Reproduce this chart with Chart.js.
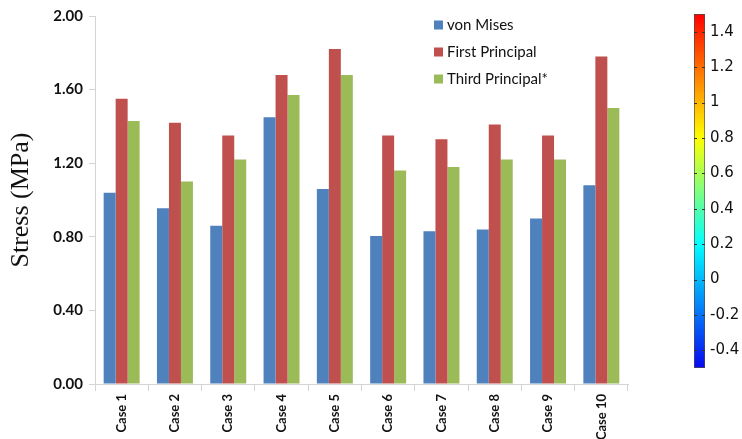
<!DOCTYPE html>
<html>
<head>
<meta charset="utf-8">
<title>Stress comparison</title>
<script src="https://cdn.jsdelivr.net/npm/chart.js@4.4.0/dist/chart.umd.min.js"></script>
<style>
  body { margin: 0; background: #fff; }
  #wrap { position: relative; width: 742px; height: 439px; }
  #stressChart { position: absolute; left: 0; top: 0; }
  #scaleBar { position: absolute; left: 660px; top: 0; }
</style>
</head>
<body>
<div id="wrap">
  <canvas id="stressChart" width="742" height="439"></canvas>
  <canvas id="scaleBar" width="82" height="439"></canvas>
</div>
<script>
// Stress per load case (MPa)
const cases = ['Case 1', 'Case 2', 'Case 3', 'Case 4', 'Case 5', 'Case 6', 'Case 7', 'Case 8', 'Case 9', 'Case 10'];
const vonMises = [1.04, 0.955, 0.86, 1.45, 1.06, 0.805, 0.83, 0.84, 0.90, 1.08];
const firstPrincipal = [1.55, 1.42, 1.35, 1.68, 1.82, 1.35, 1.33, 1.41, 1.35, 1.78];
const thirdPrincipal = [1.43, 1.10, 1.22, 1.57, 1.68, 1.16, 1.18, 1.22, 1.22, 1.50];
const stressTicks = [0, 0.4, 0.8, 1.2, 1.6, 2.0];

// colour scale on the right
const scaleRange = [-0.5, 1.5];
const scaleTicks = [-0.4, -0.2, 0, 0.2, 0.4, 0.6, 0.8, 1, 1.2, 1.4];

const axisGrey = '#d4d4d4';
const textBlack = '#111';

// legend stacked inside the plot, top right
const legendBox = {
  id: 'legendBox',
  afterDraw(chart) {
    const ctx = chart.ctx;
    ctx.save();
    ctx.font = '15px Lato';
    ctx.textBaseline = 'middle';
    chart.data.datasets.forEach((ds, i) => {
      const y = 25 + i * 27;
      ctx.fillStyle = ds.backgroundColor;
      ctx.fillRect(434, y - 4.5, 9, 9);
      ctx.fillStyle = textBlack;
      ctx.fillText(ds.label, 447, y);
    });
    ctx.restore();
  }
};

new Chart(document.getElementById('stressChart'), {
  type: 'bar',
  data: {
    labels: cases,
    datasets: [
      { label: 'von Mises', data: vonMises, backgroundColor: '#4F81BD' },
      { label: 'First Principal', data: firstPrincipal, backgroundColor: '#C0504D' },
      { label: 'Third Principal*', data: thirdPrincipal, backgroundColor: '#9BBB59' }
    ]
  },
  options: {
    responsive: false,
    animation: false,
    datasets: { bar: { categoryPercentage: 0.675, barPercentage: 1 } },
    layout: { padding: { left: 0, right: 114, top: 16, bottom: 0 } },
    plugins: { legend: { display: false }, tooltip: { enabled: false } },
    scales: {
      x: {
        afterFit: scale => { scale.height = 55; },
        grid: { drawOnChartArea: false, tickLength: 7, color: axisGrey },
        border: { color: axisGrey },
        ticks: {
          minRotation: 90, maxRotation: 90, padding: 3, color: textBlack,
          font: { family: 'Lato', weight: 'bold', size: 13 }
        }
      },
      y: {
        min: 0,
        max: 2,
        afterBuildTicks: scale => { scale.ticks = stressTicks.map(v => ({ value: v })); },
        afterFit: scale => { scale.width = 95; },
        grid: { drawOnChartArea: false, tickLength: 6, color: axisGrey },
        border: { color: axisGrey },
        ticks: {
          padding: 6, color: textBlack,
          font: { family: 'Lato', weight: 'bold', size: 15 },
          callback: v => v.toFixed(2)
        },
        title: {
          display: true, text: 'Stress (MPa)', color: textBlack, padding: 6,
          font: { family: 'Liberation Serif', size: 26 }
        }
      }
    }
  },
  plugins: [legendBox]
});

// blue -> cyan -> yellow -> red fill for the scale bar
function scaleGradient(chart) {
  const area = chart.chartArea;
  if (!area) return '#00ffff';
  const g = chart.ctx.createLinearGradient(0, area.bottom, 0, area.top);
  g.addColorStop(0, '#0808f0');
  g.addColorStop(0.35, '#00ffff');
  g.addColorStop(0.65, '#ffff00');
  g.addColorStop(1, '#ff0000');
  return g;
}

// short tick marks inside both edges of the scale bar
const barTicks = {
  id: 'barTicks',
  afterDatasetsDraw(chart) {
    const ctx = chart.ctx;
    const y = chart.scales.y;
    const { left, right } = chart.chartArea;
    ctx.save();
    ctx.strokeStyle = '#333';
    ctx.lineWidth = 1;
    scaleTicks.forEach(v => {
      const py = Math.round(y.getPixelForValue(v)) + 0.5;
      ctx.beginPath();
      ctx.moveTo(left, py); ctx.lineTo(left + 3, py);
      ctx.moveTo(right - 3, py); ctx.lineTo(right, py);
      ctx.stroke();
    });
    ctx.restore();
  }
};

new Chart(document.getElementById('scaleBar'), {
  type: 'bar',
  data: {
    labels: [''],
    datasets: [{
      data: [scaleRange],
      backgroundColor: ctx => scaleGradient(ctx.chart),
      borderColor: '#4d4d4d',
      borderWidth: 1,
      borderSkipped: false,
      barPercentage: 1,
      categoryPercentage: 1
    }]
  },
  options: {
    responsive: false,
    animation: false,
    layout: { padding: { left: 34, top: 13, bottom: 71, right: 0 } },
    plugins: { legend: { display: false }, tooltip: { enabled: false } },
    scales: {
      x: { display: false },
      y: {
        position: 'right',
        min: scaleRange[0],
        max: scaleRange[1],
        afterBuildTicks: scale => { scale.ticks = scaleTicks.map(v => ({ value: v })); },
        afterFit: scale => { scale.width = 37; },
        grid: { display: false, drawTicks: false },
        border: { display: false },
        ticks: {
          padding: 5, color: textBlack,
          font: { family: 'DejaVu Sans', size: 15 },
          callback: v => String(Math.round(v * 10) / 10)
        }
      }
    }
  },
  plugins: [barTicks]
});
</script>
</body>
</html>
